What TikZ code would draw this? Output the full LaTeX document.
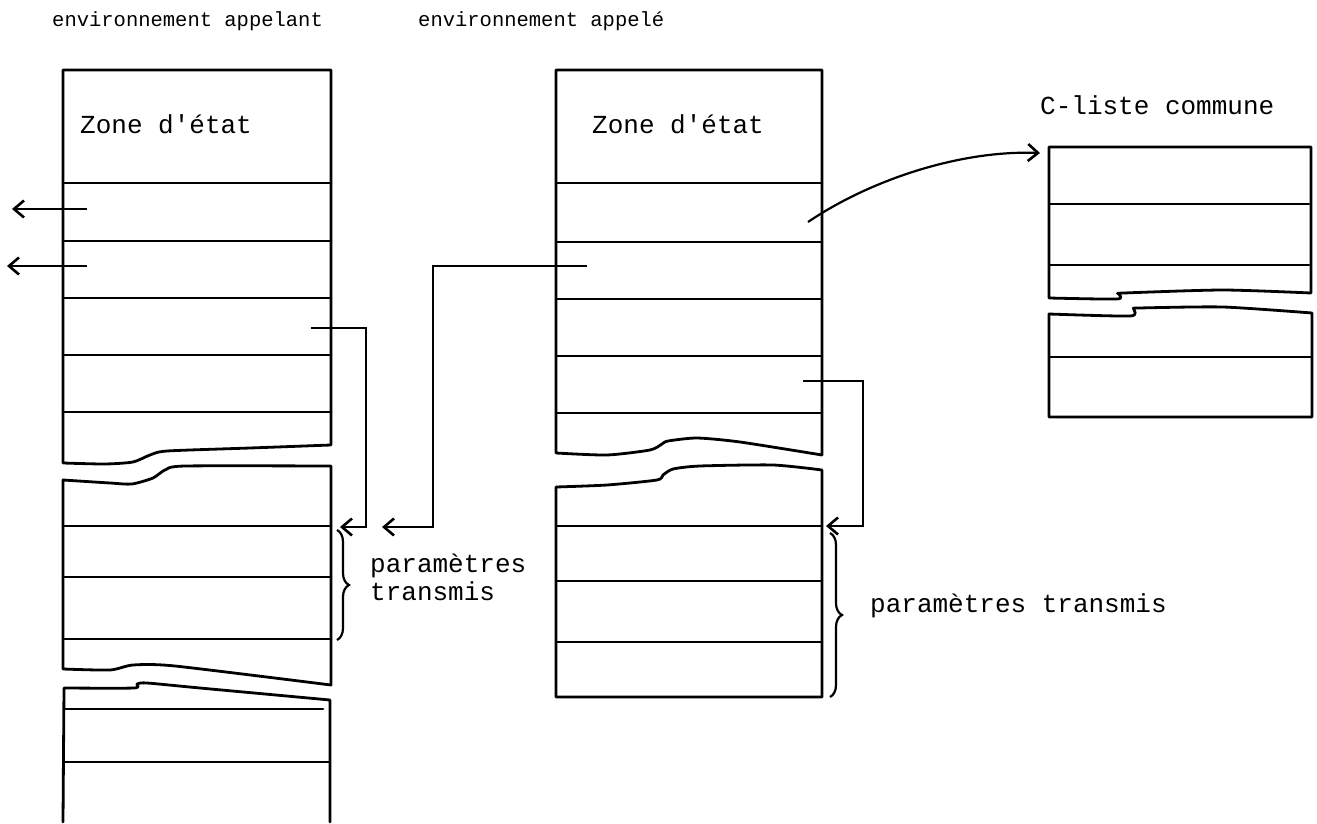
\documentclass[tikz,border=0pt]{standalone}
\usepackage{fontspec}
\setmonofont{Liberation Mono}
\usetikzlibrary{arrows.meta,decorations.pathreplacing}
\begin{document}
\begin{tikzpicture}[x=1pt,y=-1pt,
  wall/.style={line width=2.8pt, line cap=round, line join=round},
  sep/.style={line width=2.6pt, line cap=round},
  conn/.style={line width=2.2pt, line join=miter},
  arr/.style={conn,-{Straight Barb[length=10pt,width=17pt,line width=2.6pt]}},
  lbl/.style={font=\ttfamily\fontsize{26}{28}\selectfont, anchor=base west, inner sep=0pt},
  ttl/.style={font=\ttfamily\fontsize{20.5}{22}\selectfont, anchor=base west, inner sep=0pt},
  brc/.style={line width=2.2pt, decorate, decoration={brace, amplitude=12pt}}
]
\useasboundingbox (0,0) rectangle (1317,824);

% ---------- titles ----------
\node[ttl] (t1) at (52,27) {environnement appelant};
\node[ttl] (t2) at (418,27) {environnement appelé};
\node[lbl] (t3) at (1040,115) {C-liste commune};

% ---------- left column (calling environment) ----------
\draw[wall] (331,445) -- (331,70) -- (63,70) -- (63,463)
  -- plot[smooth,tension=0.4] coordinates {(63,463) (105,464) (133,462) (150,455) (167,451) (250,448) (331,445)};
\node[lbl] (zl) at (80,134) {Zone d'état};
\foreach \y in {183,241,298,355,412} \draw[sep] (63,\y) -- (331,\y);

\draw[wall] plot[smooth,tension=0.4] coordinates {(63,480) (110,483) (132,484) (153,478) (165,470) (185,466) (331,466)}
  -- (331,685) -- plot[smooth,tension=0.4] coordinates {(331,685) (175,666) (133,665) (110,670) (63,669)} -- cycle;
\foreach \y in {526,577,639} \draw[sep] (63,\y) -- (331,\y);

\draw[wall] (63,822) -- (64,688) -- plot[smooth,tension=0.4] coordinates {(64,688) (134,688) (137,684) (147,683) (200,688) (330,700)} -- (330,822);
\draw[sep] (65,709) -- (323,709);
\draw[sep] (64,762) -- (330,762);

% ---------- middle column (called environment) ----------
\draw[wall] (822,455) -- (822,70) -- (556,70) -- (556,453)
  -- plot[smooth,tension=0.4] coordinates {(556,453) (607,455) (650,450) (662,444) (668,441) (697,438) (740,442) (822,455)};
\node[lbl] (zm) at (592,134) {Zone d'état};
\foreach \y in {183,242,299,356,413} \draw[sep] (556,\y) -- (822,\y);

\draw[wall] plot[smooth,tension=0.4] coordinates {(556,487) (607,485) (657,480) (663,475) (673,469) (700,466) (773,465) (822,470)}
  -- (822,697) -- (556,697) -- cycle;
\foreach \y in {526,581,642} \draw[sep] (556,\y) -- (822,\y);

% ---------- C-liste commune ----------
\draw[wall] (1311,293) -- (1311,147) -- (1049,147) -- (1049,298)
  -- plot[smooth,tension=0.4] coordinates {(1049,298) (1117,299) (1119,294) (1124,293) (1223,290) (1311,293)};
\foreach \y in {204,265} \draw[sep] (1049,\y) -- (1309,\y);
\draw[wall] plot[smooth,tension=0.4] coordinates {(1049,314) (1130,316) (1134,309) (1139,308) (1223,307) (1312,313)}
  -- (1312,417) -- (1049,417) -- cycle;
\draw[sep] (1049,357) -- (1312,357);

% ---------- connectors ----------
\coordinate (la1) at (87,209);  \coordinate (la1e) at (12,209);
\coordinate (la2) at (87,266);  \coordinate (la2e) at (7,266);
\draw[arr] (la1) -- (la1e);
\draw[arr] (la2) -- (la2e);

\coordinate (lcs) at (311,328); \coordinate (lct) at (340,527);
\draw[arr] (lcs) -- (366,328) |- (lct);

\coordinate (mcs) at (587,266); \coordinate (mct) at (382,527);
\draw[arr] (mcs) -- (433,266) |- (mct);

\coordinate (mrs) at (803,381); \coordinate (mrt) at (826,526);
\draw[arr] (mrs) -- (863,381) |- (mrt);

\coordinate (cs) at (808,222); \coordinate (ct) at (1040,153);
\draw[arr] (cs) .. controls (870,180) and (960,150) .. (ct);

% ---------- braces and labels ----------
\draw[brc] (337,530) -- (337,640);
\node[lbl] (p1) at (370,572) {paramètres};
\node[lbl] (p2) at (370,600) {transmis};
\draw[brc] (830,533) -- (830,697);
\node[lbl] (p3) at (870,612) {paramètres transmis};
\end{tikzpicture}
\end{document}
